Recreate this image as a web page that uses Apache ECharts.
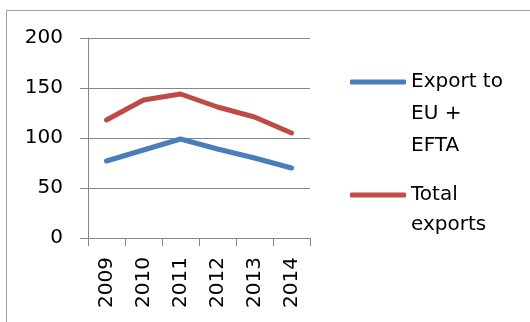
<!DOCTYPE html>
<html>
<head>
<meta charset="utf-8">
<script src="https://cdn.jsdelivr.net/npm/echarts@6/dist/echarts.min.js"></script>
<style>
html,body{margin:0;padding:0;background:#fff;}
#chart{width:530px;height:322px;}
</style>
</head>
<body>
<div id="chart"></div>
<script>
const categories = ['2009', '2010', '2011', '2012', '2013', '2014'];
const exportEuEfta = [77, 88, 99, 89, 80, 70];
const totalExports = [118, 138, 144, 131, 121, 105];
const yTicks = [0, 50, 100, 150, 200];
const seriesNames = ['Export to EU + EFTA', 'Total exports'];
const legendLines = [['Export to', 'EU +', 'EFTA'], ['Total', 'exports']];

const FONT = 'DejaVu Sans';
const chart = echarts.init(document.getElementById('chart'), null, {renderer: 'canvas'});

// put blank lines before the wrapped label so its first line sits beside the icon
function legendText(lines) {
  const pad = new Array(lines.length - 1).fill('');
  return pad.concat(lines).join('\n');
}
const LH1 = 32, LH2 = 30;

chart.setOption({
  animation: false,
  backgroundColor: '#fff',
  graphic: [{
    type: 'rect',
    shape: {x: 6.5, y: 10.5, width: 700, height: 500},
    style: {fill: 'none', stroke: '#a0a0a0', lineWidth: 1},
    silent: true
  }],
  grid: {left: 88, right: 220, top: 38, bottom: 84, containLabel: false},
  legend: [{
    data: [seriesNames[0]],
    formatter: () => legendText(legendLines[0]),
    orient: 'vertical',
    left: 350, top: 82 - 5 * LH1 / 2,
    padding: 0,
    itemWidth: 56, itemHeight: 5,
    icon: 'roundRect',
    textStyle: {fontFamily: FONT, fontSize: 20, color: '#000', lineHeight: LH1}
  }, {
    data: [seriesNames[1]],
    formatter: () => legendText(legendLines[1]),
    orient: 'vertical',
    left: 350, top: 195 - 3 * LH2 / 2,
    padding: 0,
    itemWidth: 56, itemHeight: 5,
    icon: 'roundRect',
    textStyle: {fontFamily: FONT, fontSize: 20, color: '#000', lineHeight: LH2}
  }],
  xAxis: {
    type: 'category',
    data: categories,
    boundaryGap: true,
    axisLine: {lineStyle: {color: '#868686', width: 1}},
    axisTick: {show: true, alignWithLabel: false, length: 8, lineStyle: {color: '#868686'}},
    axisLabel: {rotate: 90, margin: 19, fontFamily: FONT, fontSize: 20, color: '#000'},
    splitLine: {show: false}
  },
  yAxis: {
    type: 'value',
    min: yTicks[0], max: yTicks[yTicks.length - 1], interval: yTicks[1] - yTicks[0],
    axisLine: {show: true, lineStyle: {color: '#868686', width: 1}},
    axisTick: {show: true, length: 8, lineStyle: {color: '#868686'}},
    axisLabel: {margin: 25, fontFamily: FONT, fontSize: 20, color: '#000'},
    splitLine: {show: true, lineStyle: {color: '#868686', width: 1}}
  },
  series: [{
    name: seriesNames[0],
    type: 'line',
    data: exportEuEfta,
    showSymbol: false,
    symbol: 'none',
    lineStyle: {color: '#4A7EBB', width: 5, cap: 'round', join: 'round'},
    itemStyle: {color: '#4A7EBB'}
  }, {
    name: seriesNames[1],
    type: 'line',
    data: totalExports,
    showSymbol: false,
    symbol: 'none',
    lineStyle: {color: '#BE4B48', width: 5, cap: 'round', join: 'round'},
    itemStyle: {color: '#BE4B48'}
  }]
});
</script>
</body>
</html>
